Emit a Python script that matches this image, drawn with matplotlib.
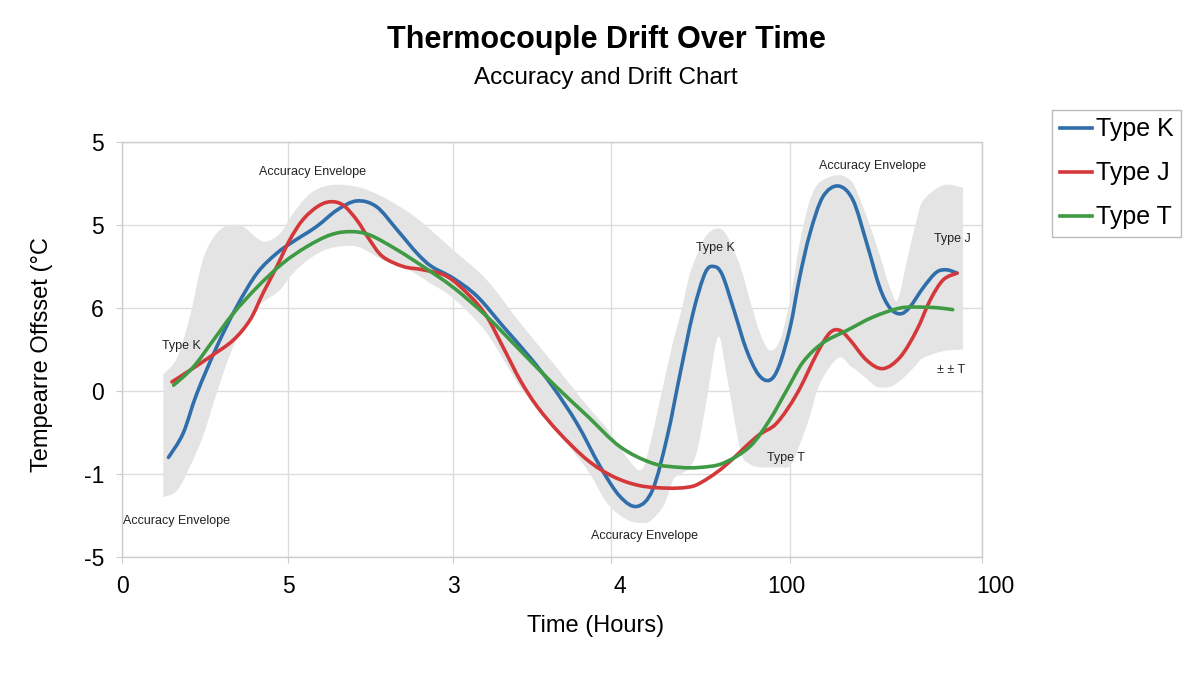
import numpy as np
import matplotlib.pyplot as plt
from matplotlib.path import Path
from matplotlib.patches import PathPatch
from matplotlib.lines import Line2D
from matplotlib.transforms import ScaledTranslation

plt.rcParams['font.family'] = ['Liberation Sans', 'DejaVu Sans']

# values (x in axis units 0-100, y in tick-slot units 0-5)
time_k = [5.4, 7.1, 8.7, 11.0, 13.3, 15.7, 18.0, 19.9, 22.6, 25.0, 27.3, 29.6,
          32.0, 34.3, 36.0, 38.5, 41.3, 44.3, 47.4, 50.1, 52.9, 55.6, 57.9,
          59.9, 61.7, 63.4, 64.9, 66.4, 67.8, 68.8, 69.8, 71.2, 72.6, 74.0, 75.3,
          76.4, 77.7, 78.8, 80.0, 81.5, 83.3, 85.0, 86.6, 88.1, 89.3, 90.5, 91.6,
          93.2, 94.7, 95.9, 97.1]
drift_k = [1.20, 1.49, 1.97, 2.53, 3.01, 3.42, 3.66, 3.80, 3.98, 4.18, 4.29, 4.22,
           3.94, 3.66, 3.50, 3.36, 3.14, 2.78, 2.41, 2.05, 1.61, 1.09, 0.73,
           0.61, 0.81, 1.45, 2.21, 2.94, 3.42, 3.50, 3.40, 2.96, 2.50, 2.20, 2.13,
           2.30, 2.77, 3.37, 3.90, 4.34, 4.47, 4.30, 3.78, 3.25, 3.00, 2.93, 3.01,
           3.25, 3.43, 3.46, 3.42]

time_j = [5.8, 7.9, 10.2, 12.9, 14.9, 16.4, 18.0, 19.5, 21.0, 22.7, 24.2, 25.7,
          27.3, 28.8, 30.3, 32.7, 35.0, 37.8, 40.5, 42.4, 44.3, 46.3, 48.3,
          50.9, 54.1, 57.1, 60.2, 63.4, 65.7, 67.2, 69.9, 73.8, 76.1, 78.5,
          80.8, 82.3, 83.5, 84.7, 86.6, 88.5, 90.5, 92.4, 94.0, 95.5, 97.1]
drift_j = [2.11, 2.25, 2.41, 2.61, 2.86, 3.18, 3.50, 3.82, 4.06, 4.22, 4.28, 4.24,
           4.06, 3.82, 3.62, 3.50, 3.46, 3.38, 3.14, 2.90, 2.53, 2.13, 1.81,
           1.49, 1.17, 0.97, 0.86, 0.83, 0.84, 0.89, 1.08, 1.45, 1.61, 1.97,
           2.45, 2.70, 2.73, 2.61, 2.37, 2.27, 2.41, 2.73, 3.10, 3.34, 3.42]

time_t = [6.0, 8.3, 10.6, 12.9, 15.7, 18.7, 21.5, 24.2, 26.5, 28.8, 32.0, 35.0,
          38.5, 42.4, 46.3, 50.1, 54.1, 57.9, 61.7, 64.9, 67.2, 69.9, 73.0,
          75.3, 77.3, 79.2, 81.5, 84.3, 87.3, 90.5, 93.2, 95.1, 96.6]
drift_t = [2.07, 2.29, 2.61, 2.93, 3.25, 3.54, 3.74, 3.88, 3.92, 3.88, 3.70, 3.50,
           3.25, 2.90, 2.49, 2.09, 1.70, 1.33, 1.13, 1.08, 1.08, 1.13, 1.33,
           1.65, 2.01, 2.35, 2.58, 2.73, 2.89, 3.00, 3.01, 3.00, 2.98]

env_time = [4.8, 6.4, 7.9, 9.4, 11.0, 12.6, 14.1, 15.7, 16.8, 18.4, 19.9, 21.9,
            24.2, 27.3, 30.3, 33.5, 35.8, 38.5, 42.4, 46.3, 50.1, 54.1, 56.4,
            58.7, 60.4, 61.5, 63.0, 64.1, 65.0, 66.0, 66.9, 68.0, 69.3, 70.3,
            71.9, 73.0, 74.2, 75.3, 76.5, 77.7, 78.8, 80.0, 81.2, 83.3, 84.7,
            85.4, 86.6, 87.8, 89.3, 90.2, 91.3, 92.4, 93.2, 95.5, 97.8]
env_low = [0.72, 0.80, 1.09, 1.45, 1.97, 2.45, 2.77, 3.01, 3.10, 3.22, 3.42, 3.60,
           3.72, 3.74, 3.58, 3.45, 3.30, 3.12, 2.70, 2.05, 1.57, 1.05, 0.65,
           0.45, 0.41, 0.44, 0.62, 0.93, 1.00, 1.08, 1.29, 1.90, 2.65, 2.20,
           1.29, 1.12, 1.08, 1.08, 1.08, 1.10, 1.35, 1.70, 2.10, 2.40, 2.30,
           2.25, 2.15, 2.05, 2.05, 2.10, 2.20, 2.32, 2.40, 2.48, 2.50]
env_high = [2.20, 2.40, 2.90, 3.58, 3.90, 4.00, 3.98, 3.84, 3.80, 3.90, 4.14, 4.38,
            4.48, 4.46, 4.34, 4.14, 3.95, 3.70, 3.34, 2.82, 2.34, 1.82, 1.55,
            1.20, 1.05, 1.40, 2.10, 2.60, 2.95, 3.40, 3.65, 3.88, 3.96, 3.88,
            3.50, 3.10, 2.70, 2.49, 2.61, 3.10, 3.78, 4.30, 4.52, 4.60, 4.54,
            4.42, 4.10, 3.74, 3.25, 3.10, 3.58, 4.06, 4.30, 4.48, 4.45]

x_ticks = [0, 19.3, 38.5, 56.9, 77.7, 100]
x_labels = ['0', '5', '3', '4', '100', '100']
x_label_nudge = [0, 0, 0, 8, -4, 13]   # pixels, labels sit off their gridlines
y_ticks = [0, 1, 2, 3, 4, 5]
y_labels = ['-5', '-1', '0', '6', '5', '5']

notes = [
    ('Accuracy Envelope', 22.1, 4.64),
    ('Type K', 6.9, 2.54),
    ('Accuracy Envelope', 6.3, 0.43),
    ('Accuracy Envelope', 60.7, 0.25),
    ('Type K', 69.0, 3.72),
    ('Accuracy Envelope', 87.3, 4.71),
    ('Type J', 96.6, 3.83),
    ('± ± T', 96.4, 2.25),
    ('Type T', 77.2, 1.19),
]


def smooth_chain(xs, ys):
    # Catmull-Rom through the read points, drawn as cubic Bezier segments
    p = np.column_stack([xs, ys]).astype(float)
    ext = np.vstack([p[0], p, p[-1]])
    verts, codes = [tuple(p[0])], [Path.MOVETO]
    for i in range(1, len(ext) - 2):
        c1 = ext[i] + (ext[i + 1] - ext[i - 1]) / 6
        c2 = ext[i + 1] - (ext[i + 2] - ext[i]) / 6
        verts += [tuple(c1), tuple(c2), tuple(ext[i + 1])]
        codes += [Path.CURVE4] * 3
    return verts, codes


def smooth_line(ax, xs, ys, color):
    verts, codes = smooth_chain(xs, ys)
    patch = PathPatch(Path(verts, codes), fill=False, edgecolor=color, lw=2.6,
                      capstyle='round', joinstyle='round', zorder=3)
    ax.add_patch(patch)


def smooth_band(ax, xs, lo, hi, color):
    v_hi, c_hi = smooth_chain(xs, hi)
    v_lo, c_lo = smooth_chain(xs[::-1], lo[::-1])
    c_lo[0] = Path.LINETO
    verts = v_hi + v_lo + [v_hi[0]]
    codes = c_hi + c_lo + [Path.CLOSEPOLY]
    ax.add_patch(PathPatch(Path(verts, codes), facecolor=color, edgecolor='none',
                           lw=0, zorder=1))


fig = plt.figure(figsize=(12, 6.86), dpi=100)
ax = fig.add_axes([0.1017, 0.188, 0.7166, 0.605])

smooth_band(ax, env_time, env_low, env_high, '#e4e4e4')

series = [('Type K', time_k, drift_k, '#2f6eab'),
          ('Type J', time_j, drift_j, '#d5383a'),
          ('Type T', time_t, drift_t, '#3f9a44')]
handles = []
for name, xs, ys, col in series:
    smooth_line(ax, xs, ys, col)
    handles.append(Line2D([], [], color=col, lw=2.6, label=name))

for txt, x, y in notes:
    ax.text(x, y, txt, fontsize=9, ha='center', va='center', color='#222222', zorder=4)

ax.set_xlim(0, 100)
ax.set_ylim(0, 5)
ax.set_xticks(x_ticks)
ax.set_xticklabels(x_labels)
ax.set_yticks(y_ticks)
ax.set_yticklabels(y_labels)
ax.tick_params(labelsize=16.5, length=4, width=0.8, color='#cccccc', pad=9)
for lab, dx in zip(ax.get_xticklabels(), x_label_nudge):
    lab.set_transform(lab.get_transform() + ScaledTranslation(dx / 100, 0, fig.dpi_scale_trans))
ax.grid(True, color='#dddddd', lw=1)
ax.set_axisbelow(True)
for s in ax.spines.values():
    s.set_color('#cccccc')
    s.set_linewidth(1)

fig.text(0.505, 0.942, 'Thermocouple Drift Over Time', fontsize=22, fontweight='bold',
         ha='center', va='center')
fig.text(0.505, 0.886, 'Accuracy and Drift Chart', fontsize=17.5, ha='center', va='center')
fig.text(0.496, 0.0875, 'Time (Hours)', fontsize=17, ha='center', va='center')
fig.text(0.035, 0.4825, 'Tempearre Offsset (°C', fontsize=17, rotation=90,
         ha='center', va='center')

leg = fig.legend(handles=handles, loc='upper left', bbox_to_anchor=(0.877, 0.840),
                 borderaxespad=0, fontsize=18, handlelength=1.3, handletextpad=0.15,
                 borderpad=0.3, labelspacing=0.8, fancybox=False,
                 edgecolor='#bbbbbb', framealpha=1)
leg.get_frame().set_linewidth(1)

fig.savefig('out.png', dpi=100)
